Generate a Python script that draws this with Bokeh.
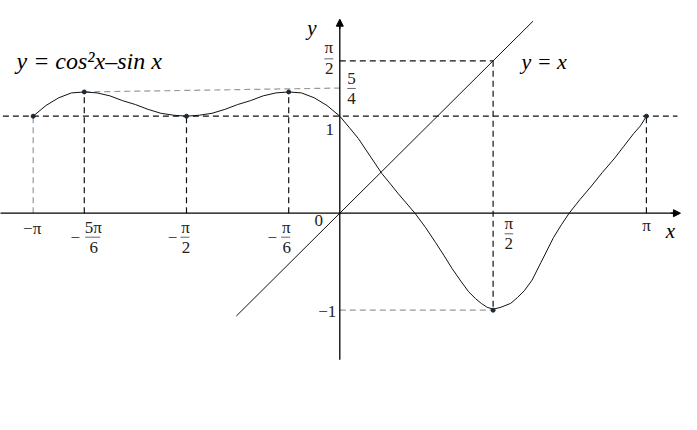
import math
from bokeh.plotting import figure
from bokeh.models import Range1d, Arrow, NormalHead
from bokeh.core.properties import value
from bokeh.embed import file_html
from bokeh.resources import INLINE

PI = math.pi
FONT = "Liberation Serif"

# ---- data: curve y = cos^2 x - sin x ----
curve_x = [-3.142, -3.011, -2.880, -2.749, -2.618, -2.487, -2.356, -2.225, -2.094,
           -1.963, -1.833, -1.702, -1.571, -1.440, -1.309, -1.178, -1.047, -0.916,
           -0.785, -0.654, -0.524, -0.393, -0.262, -0.131, 0.000,
           0.10, 0.19, 0.31, 0.43, 0.52, 0.60, 0.77, 0.88, 0.98, 1.07, 1.15, 1.24, 1.32,
           1.39, 1.45, 1.51, 1.571, 1.65, 1.75, 1.82, 1.89, 1.97, 2.06, 2.19, 2.27,
           2.35, 2.46, 2.57, 2.69, 2.81, 2.91, 3.01, 3.08, 3.142]
curve_y = [1.00, 1.11, 1.19, 1.24, 1.25, 1.24, 1.21, 1.16, 1.12,
           1.07, 1.03, 1.01, 1.00, 1.01, 1.03, 1.07, 1.12, 1.16,
           1.21, 1.24, 1.25, 1.24, 1.19, 1.11, 1.00,
           0.88, 0.77, 0.59, 0.41, 0.30, 0.20, 0.00, -0.15, -0.30, -0.44, -0.57, -0.70, -0.81,
           -0.88, -0.93, -0.97, -0.99, -0.97, -0.93, -0.87, -0.80, -0.69, -0.51, -0.25, -0.12,
           0.00, 0.14, 0.27, 0.42, 0.56, 0.69, 0.82, 0.90, 1.00]

# y = x segment
line_x = [-1.06, 1.98]
line_y = [-1.06, 1.98]

# marked points
pts_x = [-PI, -5 * PI / 6, -PI / 2, -PI / 6, PI / 2, PI]
pts_y = [1.0, 1.25, 1.0, 1.25, -1.0, 1.0]

# axes extents
x_axis_end = 3.49
y_axis_bottom = -1.51
y_axis_top = 2.00

# frame
X0, X1 = -3.4764, 3.5010
Y0, Y1 = -2.0753, 2.1928
W, H = 681, 414
SX = W / (X1 - X0)
SY = H / (Y1 - Y0)

p = figure(width=W, height=H, output_backend="svg", toolbar_location=None,
           x_range=Range1d(X0, X1), y_range=Range1d(Y0, Y1),
           x_axis_type=None, y_axis_type=None, min_border=0)
p.grid.visible = False
p.outline_line_color = None
p.background_fill_color = "white"

BLACK_DASH = dict(line_color="#111111", line_width=1.2, line_dash="6 4")
GRAY_DASH = dict(line_color="#9a9a9a", line_width=1.2, line_dash="6 4")

# dashed guides
p.line([X0 - 1, 3.46], [1, 1], **BLACK_DASH)
p.line([0, PI / 2], [PI / 2, PI / 2], **BLACK_DASH)
p.line([PI / 2, PI / 2], [PI / 2, -1], **BLACK_DASH)
p.line([0, PI / 2], [-1, -1], **GRAY_DASH)
p.line([-PI, -PI], [0, 1], **GRAY_DASH)
for xv, yv in [(-5 * PI / 6, 1.25), (-PI / 2, 1.0), (-PI / 6, 1.25), (PI, 1.0)]:
    p.line([xv, xv], [0, yv], **BLACK_DASH)
p.line([-5 * PI / 6, 0], [1.25, 1.29], **GRAY_DASH)

# axes
p.line([X0 - 1, x_axis_end - 0.05], [0, 0], line_color="black", line_width=1.3)
p.line([0, 0], [y_axis_bottom, y_axis_top - 0.05], line_color="black", line_width=1.3)
p.add_layout(Arrow(end=NormalHead(size=7, fill_color="black", line_color="black"),
                   x_start=x_axis_end - 0.1, y_start=0, x_end=x_axis_end, y_end=0,
                   line_color="black", line_width=1.3))
p.add_layout(Arrow(end=NormalHead(size=7, fill_color="black", line_color="black"),
                   x_start=0, y_start=y_axis_top - 0.1, x_end=0, y_end=y_axis_top,
                   line_color="black", line_width=1.3))

# curves
p.line(line_x, line_y, line_color="#111111", line_width=1.0)
p.line(curve_x, curve_y, line_color="#111111", line_width=1.0, line_join="round")
p.scatter(pts_x, pts_y, size=4, fill_color="#1c2833", line_color="#1c2833")


def put(xv, yv, txt, dx=0, dy=0, size=17, style="normal", align="center", color="#222222"):
    p.text(x=[xv], y=[yv], text=[txt], x_offset=dx, y_offset=dy,
           text_font=value(FONT), text_font_size=f"{size}px", text_font_style=style,
           text_align=align, text_baseline="middle", text_color=color)


def bar(xv, yv, dx0, dx1, dy):
    p.line([xv + dx0 / SX, xv + dx1 / SX], [yv - dy / SY, yv - dy / SY],
           line_color="#666666", line_width=1)


def xfrac(xv, num, den, fdx, mdx):
    put(xv, 0, "\u2212", dx=mdx, dy=24.5)
    put(xv, 0, num, dx=fdx, dy=14)
    bar(xv, 0, fdx - 5 - 3 * (len(num) - 1), fdx + 4 + 3 * (len(num) - 1), 24)
    put(xv, 0, den, dx=fdx + 0.5, dy=34)


# x tick labels
put(-PI, 0, "\u2212\u03c0", dx=-1, dy=15)
xfrac(-5 * PI / 6, "5\u03c0", "6", 9, -9)
xfrac(-PI / 2, "\u03c0", "2", -1, -14)
xfrac(-PI / 6, "\u03c0", "6", -2.5, -16.5)
put(PI / 2, 0, "\u03c0", dx=15.7, dy=10.6)
bar(PI / 2, 0, 11.5, 20, 20.6)
put(PI / 2, 0, "2", dx=15.7, dy=30.6)
put(PI, 0, "\u03c0", dx=0, dy=12)
put(0, 0, "0", dx=-21, dy=7)

# y tick labels
put(0, PI / 2, "\u03c0", dx=-11, dy=-13)
bar(0, PI / 2, -15.5, -6.5, -2)
put(0, PI / 2, "2", dx=-10.5, dy=8)
put(0, 1.25, "5", dx=11.7, dy=-13.5)
bar(0, 1.25, 7.5, 16, -3.5)
put(0, 1.25, "4", dx=11.7, dy=7)
put(0, 1, "1", dx=-10, dy=13.6)
put(0, -1, "\u22121", dx=-12.6, dy=1)

# axis names
put(PI, 0, "x", dx=24, dy=18, size=21, style="italic", color="black")
put(0, y_axis_top, "y", dx=-28, dy=9, size=21, style="italic", color="black")

# equations
put(-PI, PI / 2, "y = cos\u00b2x\u2013sin x", dx=-16.7, dy=0, size=24,
    style="italic", align="left", color="black")
put(PI / 2, PI / 2, "y = x", dx=28.4, dy=0.4, size=22,
    style="italic", align="left", color="black")

open("out.html", "w").write(file_html(p, INLINE))
